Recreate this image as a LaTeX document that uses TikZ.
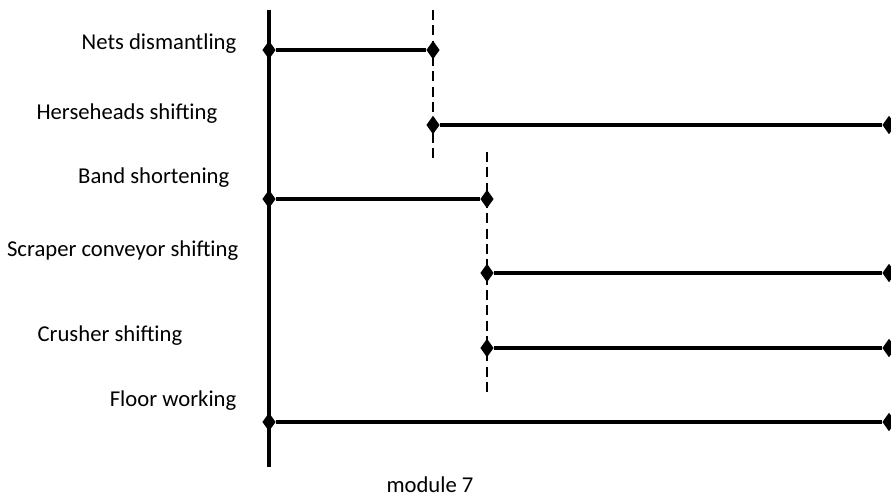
\documentclass[tikz,border=0pt]{standalone}
\usepackage{fontspec}
\setmainfont{Carlito}
\usetikzlibrary{shapes.geometric}

\begin{document}
\begin{tikzpicture}[x=0.75pt,y=-0.75pt]
\tikzstyle{joint}=[shape=diamond,fill=black,inner sep=0pt,minimum width=10pt,minimum height=14pt];
\tikzstyle{bar}=[line width=2.8pt];
\tikzstyle{axis}=[line width=3.2pt];
\tikzstyle{limit}=[line width=1.4pt,dash pattern=on 7.5pt off 4pt];
\tikzstyle{task}=[anchor=east,font=\fontsize{17}{20}\selectfont];
\useasboundingbox (0,0) rectangle (891,497);
% time axis
\coordinate (top) at (269,10);
\coordinate (bot) at (269,467);
\draw [axis] (top) -- (bot);
% dashed limits
\coordinate (d1a) at (433,10);
\coordinate (d1b) at (433,162);
\coordinate (d2a) at (487,152);
\coordinate (d2b) at (487,397);
\draw [limit] (d1a) -- (d1b);
\draw [limit] (d2a) -- (d2b);
% joints
\node[joint] (n1) at (269,50) {};
\node[joint] (n2) at (433,50) {};
\node[joint] (h1) at (433,125) {};
\node[joint] (h2) at (889,125) {};
\node[joint] (b1) at (269,199) {};
\node[joint] (b2) at (487,199) {};
\node[joint] (s1) at (487,273) {};
\node[joint] (s2) at (889,273) {};
\node[joint] (c1) at (487,348) {};
\node[joint] (c2) at (889,348) {};
\node[joint] (f1) at (269,422) {};
\node[joint] (f2) at (889,422) {};
% bars
\draw [bar] (n1) -- (n2);
\draw [bar] (h1) -- (h2);
\draw [bar] (b1) -- (b2);
\draw [bar] (s1) -- (s2);
\draw [bar] (c1) -- (c2);
\draw [bar] (f1) -- (f2);
% task labels
\node[task] (tn) at (241,44) {Nets dismantling};
\node[task] (th) at (222,114) {Herseheads shifting};
\node[task] (tb) at (234,178) {Band shortening};
\node[task] (ts) at (243,251) {Scraper conveyor shifting};
\node[task] (tc) at (187,336) {Crusher shifting};
\node[task] (tf) at (241,401) {Floor working};
\node[font=\fontsize{17}{20}\selectfont] (mod) at (430,485) {module 7};
\end{tikzpicture}
\end{document}
